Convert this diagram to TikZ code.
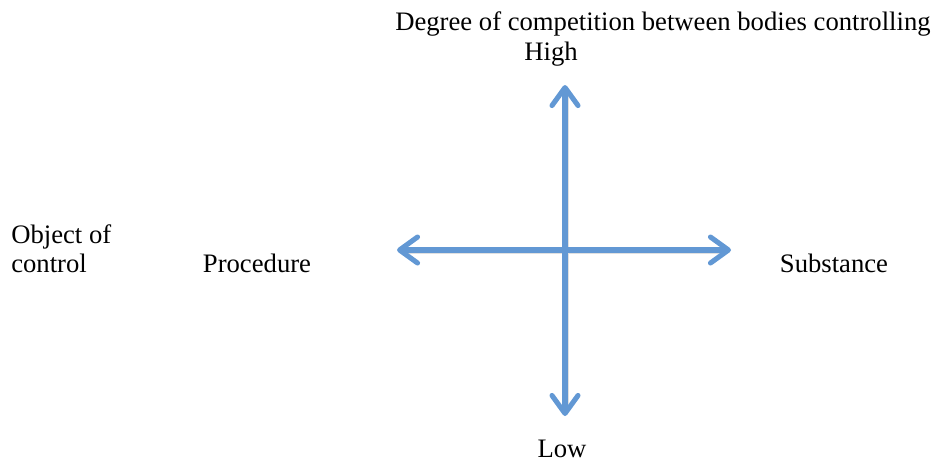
\documentclass[tikz,border=0pt]{standalone}
\usepackage{fontspec}
\setmainfont{Liberation Serif}
\usepackage{xcolor}
\usetikzlibrary{arrows.meta, positioning}

\definecolor{axisblue}{RGB}{98,152,212}

\begin{document}
\begin{tikzpicture}[
	x=0.75pt, y=-0.75pt,
	lab/.style={inner sep=0pt, font=\fontsize{20}{21.75}\selectfont},
	axisline/.style={draw=axisblue, line width=3.8pt,
		{Straight Barb[length=13.5pt, width=19.5pt, round]}-{Straight Barb[length=13.5pt, width=19.5pt, round]}},
	shade/.style={draw=black!12, line width=3.8pt, shorten >=4pt, shorten <=4pt}
	]
	\useasboundingbox (0,0) rectangle (933,462);
	% axis end points
	\coordinate (top) at (565,85);
	\coordinate (bot) at (565,416);
	\coordinate (left) at (397,250);
	\coordinate (right) at (731,250);
	% labels
	\node[lab, anchor=base west] (title) at (395,30) {Degree of competition between bodies controlling};
	\node[lab, anchor=base] (high) at (551,60) {High};
	\node[lab, anchor=base] (low) at (562,457) {Low};
	\node[lab, anchor=base west, align=left] (object) at (11,272) {Object of\\control};
	\node[lab, anchor=base] (proc) at (257,272) {Procedure};
	\node[lab, anchor=base] (subst) at (834,272) {Substance};
	% axes
	\draw[shade] ([shift={(1.5,1.5)}]left) -- ([shift={(1.5,1.5)}]right);
	\draw[shade] ([shift={(1.5,1.5)}]top) -- ([shift={(1.5,1.5)}]bot);
	\draw[axisline] (left) -- (right);
	\draw[axisline] (top) -- (bot);
\end{tikzpicture}
\end{document}
